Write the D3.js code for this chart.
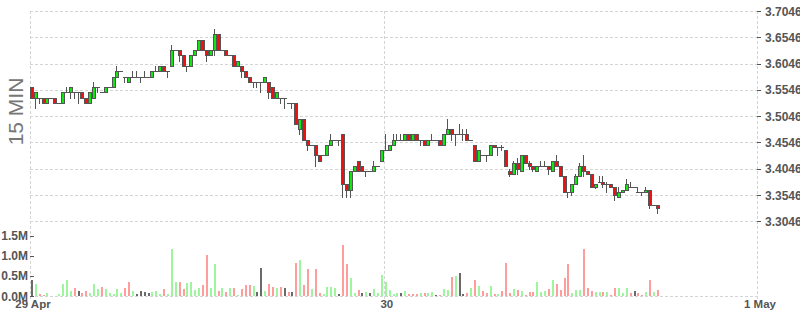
<!DOCTYPE html>
<html>
<head>
<meta charset="utf-8">
<script src="https://cdn.jsdelivr.net/npm/d3@7"></script>
<style>
    body { margin: 0; background: #fff; }
    svg { display: block; }
    .tick-text { font-family: "Liberation Sans", Arial, sans-serif; font-weight: bold; fill: #555; }
</style>
</head>
<body>
<svg id="chart"></svg>
<script>
// 15 minute candles, 29 Apr 01:15 onward
const firstBar = new Date(2019, 3, 29, 1, 15);
const axisEnd = new Date(2019, 4, 1, 0, 0);
const barMinutes = 15;

const openPrices = [
    3.56, 3.54, 3.54, 3.54, 3.53, 3.54, 3.54, 3.53, 3.53, 3.55,
    3.55, 3.55, 3.55, 3.55, 3.54, 3.53, 3.54, 3.56, 3.55, 3.55,
    3.56, 3.56, 3.58, 3.59, 3.58, 3.57, 3.58, 3.58, 3.58, 3.58,
    3.58, 3.58, 3.59, 3.59, 3.60, 3.59, 3.60, 3.63, 3.63, 3.62,
    3.60, 3.60, 3.62, 3.63, 3.65, 3.63, 3.62, 3.63, 3.66, 3.63,
    3.63, 3.62, 3.62, 3.60, 3.60, 3.59, 3.58, 3.57, 3.57, 3.57,
    3.57, 3.57, 3.56, 3.54, 3.54, 3.54, 3.53, 3.53, 3.53, 3.48,
    3.50, 3.46, 3.45, 3.45, 3.43, 3.43, 3.43, 3.45, 3.46, 3.46,
    3.47, 3.375, 3.365, 3.40, 3.42, 3.41, 3.40, 3.40, 3.40, 3.41,
    3.42, 3.44, 3.44, 3.45, 3.46, 3.46, 3.46, 3.47, 3.46, 3.47,
    3.46, 3.46, 3.45, 3.46, 3.46, 3.46, 3.45, 3.47, 3.48, 3.47,
    3.47, 3.47, 3.47, 3.46, 3.45, 3.42, 3.43, 3.43, 3.43, 3.45,
    3.445, 3.445, 3.44, 3.40, 3.395, 3.415, 3.40, 3.43, 3.415, 3.41,
    3.40, 3.41, 3.41, 3.41, 3.40, 3.42, 3.41, 3.39, 3.36, 3.36,
    3.375, 3.39, 3.41, 3.40, 3.395, 3.37, 3.38, 3.38, 3.375, 3.375,
    3.37, 3.35, 3.36, 3.365, 3.37, 3.37, 3.36, 3.36, 3.36, 3.365,
    3.335, 3.335
];
const highPrices = [
    3.56, 3.55, 3.54, 3.54, 3.54, 3.54, 3.54, 3.53, 3.55, 3.56,
    3.56, 3.55, 3.55, 3.55, 3.54, 3.55, 3.57, 3.56, 3.55, 3.56,
    3.56, 3.58, 3.60, 3.59, 3.58, 3.58, 3.59, 3.59, 3.58, 3.59,
    3.58, 3.59, 3.60, 3.60, 3.60, 3.59, 3.64, 3.63, 3.63, 3.62,
    3.60, 3.62, 3.63, 3.65, 3.65, 3.63, 3.63, 3.67, 3.66, 3.63,
    3.63, 3.62, 3.62, 3.61, 3.60, 3.59, 3.58, 3.57, 3.57, 3.57,
    3.58, 3.57, 3.56, 3.55, 3.54, 3.54, 3.53, 3.53, 3.53, 3.50,
    3.50, 3.46, 3.45, 3.45, 3.43, 3.43, 3.45, 3.47, 3.46, 3.46,
    3.47, 3.375, 3.40, 3.41, 3.42, 3.41, 3.40, 3.40, 3.42, 3.41,
    3.44, 3.47, 3.45, 3.47, 3.47, 3.47, 3.47, 3.47, 3.47, 3.47,
    3.46, 3.46, 3.46, 3.47, 3.46, 3.46, 3.47, 3.50, 3.48, 3.47,
    3.49, 3.48, 3.48, 3.46, 3.45, 3.44, 3.43, 3.43, 3.45, 3.45,
    3.445, 3.45, 3.44, 3.405, 3.42, 3.425, 3.43, 3.43, 3.42, 3.41,
    3.41, 3.42, 3.42, 3.41, 3.42, 3.43, 3.41, 3.39, 3.36, 3.375,
    3.395, 3.415, 3.43, 3.40, 3.395, 3.375, 3.39, 3.39, 3.38, 3.375,
    3.37, 3.37, 3.365, 3.385, 3.38, 3.37, 3.37, 3.36, 3.37, 3.365,
    3.335, 3.335
];
const lowPrices = [
    3.54, 3.52, 3.53, 3.53, 3.53, 3.54, 3.53, 3.53, 3.53, 3.55,
    3.54, 3.54, 3.53, 3.54, 3.53, 3.53, 3.54, 3.55, 3.55, 3.55,
    3.56, 3.56, 3.58, 3.59, 3.57, 3.57, 3.58, 3.58, 3.57, 3.58,
    3.58, 3.58, 3.59, 3.59, 3.59, 3.58, 3.60, 3.63, 3.61, 3.60,
    3.59, 3.60, 3.62, 3.63, 3.63, 3.61, 3.62, 3.62, 3.63, 3.63,
    3.62, 3.62, 3.60, 3.60, 3.58, 3.58, 3.57, 3.56, 3.56, 3.55,
    3.57, 3.54, 3.54, 3.54, 3.53, 3.52, 3.53, 3.52, 3.49, 3.47,
    3.46, 3.44, 3.45, 3.41, 3.42, 3.43, 3.43, 3.45, 3.46, 3.45,
    3.35, 3.35, 3.35, 3.40, 3.40, 3.40, 3.39, 3.40, 3.40, 3.41,
    3.42, 3.44, 3.44, 3.45, 3.46, 3.46, 3.46, 3.46, 3.46, 3.46,
    3.45, 3.45, 3.45, 3.46, 3.46, 3.45, 3.45, 3.47, 3.46, 3.45,
    3.47, 3.46, 3.46, 3.46, 3.42, 3.42, 3.43, 3.42, 3.43, 3.445,
    3.43, 3.44, 3.41, 3.39, 3.395, 3.395, 3.40, 3.415, 3.405, 3.40,
    3.40, 3.41, 3.41, 3.395, 3.40, 3.41, 3.39, 3.36, 3.35, 3.355,
    3.375, 3.39, 3.39, 3.395, 3.37, 3.368, 3.38, 3.37, 3.36, 3.37,
    3.345, 3.35, 3.36, 3.365, 3.37, 3.37, 3.36, 3.355, 3.36, 3.33,
    3.335, 3.32
];
const closePrices = [
    3.54, 3.55, 3.54, 3.53, 3.54, 3.54, 3.53, 3.53, 3.55, 3.55,
    3.56, 3.55, 3.55, 3.54, 3.53, 3.55, 3.56, 3.56, 3.55, 3.56,
    3.56, 3.58, 3.59, 3.59, 3.58, 3.58, 3.58, 3.58, 3.58, 3.58,
    3.58, 3.59, 3.59, 3.60, 3.59, 3.59, 3.63, 3.63, 3.62, 3.60,
    3.60, 3.62, 3.63, 3.65, 3.63, 3.62, 3.63, 3.66, 3.63, 3.63,
    3.62, 3.62, 3.60, 3.61, 3.59, 3.58, 3.57, 3.57, 3.57, 3.57,
    3.58, 3.55, 3.54, 3.55, 3.54, 3.54, 3.53, 3.53, 3.49, 3.50,
    3.46, 3.45, 3.45, 3.43, 3.42, 3.43, 3.45, 3.46, 3.46, 3.46,
    3.375, 3.365, 3.40, 3.41, 3.40, 3.40, 3.40, 3.40, 3.41, 3.41,
    3.44, 3.44, 3.45, 3.46, 3.46, 3.46, 3.47, 3.46, 3.47, 3.46,
    3.46, 3.45, 3.46, 3.46, 3.46, 3.45, 3.47, 3.48, 3.47, 3.47,
    3.47, 3.47, 3.46, 3.46, 3.42, 3.44, 3.43, 3.43, 3.45, 3.445,
    3.445, 3.445, 3.41, 3.395, 3.415, 3.405, 3.43, 3.415, 3.41, 3.405,
    3.41, 3.41, 3.41, 3.405, 3.42, 3.41, 3.39, 3.36, 3.36, 3.375,
    3.39, 3.41, 3.40, 3.395, 3.37, 3.375, 3.38, 3.375, 3.375, 3.37,
    3.355, 3.36, 3.365, 3.375, 3.37, 3.37, 3.36, 3.36, 3.365, 3.335,
    3.335, 3.33
];
// volume in millions of shares
const volumes = [
    0.41, 0.31, 0.04, 0.02, 0.07, 0.00, 0.00, 0.04, 0.29, 0.39,
    0.12, 0.19, 0.12, 0.07, 0.12, 0.07, 0.29, 0.17, 0.22, 0.17,
    0.07, 0.04, 0.17, 0.07, 0.21, 0.36, 0.12, 0.04, 0.12, 0.09,
    0.07, 0.09, 0.12, 0.04, 0.17, 0.04, 1.18, 0.36, 0.36, 0.17,
    0.33, 0.36, 0.15, 0.20, 0.27, 1.01, 0.20, 0.79, 0.12, 0.20,
    0.10, 0.20, 0.20, 0.03, 0.17, 0.27, 0.27, 0.25, 0.10, 0.69,
    0.12, 0.30, 0.22, 0.20, 0.22, 0.20, 0.10, 0.10, 0.82, 0.89,
    0.27, 0.67, 0.17, 0.67, 0.07, 0.04, 0.22, 0.22, 0.20, 0.04,
    1.28, 0.79, 0.44, 0.07, 0.14, 0.07, 0.09, 0.07, 0.17, 0.07,
    0.52, 0.34, 0.14, 0.04, 0.07, 0.07, 0.12, 0.04, 0.04, 0.04,
    0.07, 0.07, 0.07, 0.09, 0.02, 0.02, 0.17, 0.14, 0.47, 0.50,
    0.56, 0.04, 0.07, 0.19, 0.39, 0.24, 0.12, 0.07, 0.24, 0.04,
    0.04, 0.13, 0.81, 0.07, 0.17, 0.14, 0.12, 0.03, 0.09, 0.09,
    0.36, 0.09, 0.12, 0.17, 0.41, 0.31, 0.14, 0.44, 0.79, 0.07,
    0.14, 0.14, 1.16, 0.19, 0.12, 0.09, 0.09, 0.09, 0.09, 0.03,
    0.21, 0.19, 0.07, 0.21, 0.07, 0.12, 0.07, 0.03, 0.09, 0.41,
    0.09, 0.14
];
// trade direction of each bar's volume: 1 up, -1 down, 0 unchanged
const volumeSide = [
    0, 1, -1, -1, 1, 0, -1, 1, 1, 1,
    1, -1, 0, -1, -1, 1, 1, 1, -1, 1,
    1, 1, 1, 1, -1, -1, 1, 0, 0, 0,
    0, 1, 1, 1, -1, 1, 1, 1, -1, -1,
    1, 1, 1, 1, -1, -1, 1, 1, -1, 1,
    -1, 1, -1, 1, -1, -1, -1, 1, 0, 0,
    1, -1, -1, 1, -1, 0, -1, 0, -1, 1,
    -1, -1, 1, -1, -1, 1, 1, 1, 1, 0,
    -1, -1, 1, 1, -1, 0, 1, 0, 1, 1,
    1, 1, 1, 1, 1, 0, 1, -1, -1, -1,
    1, -1, 1, 1, 0, -1, 1, 1, -1, 1,
    0, 0, -1, 1, -1, 1, -1, -1, 1, -1,
    1, -1, -1, -1, 1, -1, 1, -1, -1, -1,
    1, 1, 1, -1, 1, -1, -1, -1, -1, 1,
    1, 1, -1, -1, -1, 1, 1, -1, 1, -1,
    -1, 1, 1, 1, -1, 0, -1, -1, 1, -1,
    1, -1
];

const priceTicks = [3.3046, 3.3546, 3.4046, 3.4546, 3.5046, 3.5546, 3.6046, 3.6546, 3.7046];
const volumeTicks = [0, 0.5, 1.0, 1.5];
const dateTicks = [firstBar, new Date(2019, 3, 30), axisEnd];
const dateLabels = ["29 Apr", "30", "1 May"];

const width = 800, height = 315;
const plot = { left: 30, right: 757, top: 11, bottom: 296 };

const svg = d3.select("#chart")
    .attr("width", width)
    .attr("height", height);

// Scales
const x = d3.scaleTime()
    .domain([firstBar, axisEnd])
    .range([plot.left, plot.right]);

const y = d3.scaleLinear()
    .domain([3.3046, 3.7046])
    .range([221.3, plot.top]);

const yVol = d3.scaleLinear()
    .domain([0, 1.5])
    .range([plot.bottom, 235.7]);

const bars = openPrices.map((o, i) => ({
    time: new Date(+firstBar + (i + 0.5) * barMinutes * 60000),
    open: o, high: highPrices[i], low: lowPrices[i], close: closePrices[i],
    volume: volumes[i], side: volumeSide[i]
}));

const px = v => Math.round(v) + 0.5;

// Grid
const grid = svg.append("g")
    .attr("stroke", "#d4d4d4")
    .attr("stroke-dasharray", "3,2");

grid.selectAll(".h-grid")
    .data(priceTicks)
    .enter()
    .append("line")
    .attr("x1", plot.left)
    .attr("x2", plot.right)
    .attr("y1", d => px(y(d)))
    .attr("y2", d => px(y(d)));

grid.append("line")
    .attr("x1", plot.left).attr("x2", plot.right)
    .attr("y1", px(plot.bottom)).attr("y2", px(plot.bottom));

grid.selectAll(".v-grid")
    .data(dateTicks)
    .enter()
    .append("line")
    .attr("x1", d => px(x(d)))
    .attr("x2", d => px(x(d)))
    .attr("y1", plot.top)
    .attr("y2", plot.bottom + 3);

// Volume bars
const volColor = s => s > 0 ? "#9df59d" : s < 0 ? "#ff9c9c" : "#6a6a6a";

svg.append("g")
    .selectAll("rect")
    .data(bars.filter(d => d.volume > 0))
    .enter()
    .append("rect")
    .attr("x", d => Math.round(x(d.time) - 2) + 1)
    .attr("y", d => Math.round(yVol(d.volume)))
    .attr("width", 2)
    .attr("height", d => plot.bottom - Math.round(yVol(d.volume)))
    .attr("fill", d => volColor(d.side));

// Candles
const candles = svg.append("g").attr("stroke", "#555").attr("stroke-width", 1);

candles.selectAll(".wick")
    .data(bars)
    .enter()
    .append("line")
    .attr("x1", d => Math.round(x(d.time) - 2) + 1.5)
    .attr("x2", d => Math.round(x(d.time) - 2) + 1.5)
    .attr("y1", d => Math.round(y(d.high)))
    .attr("y2", d => Math.round(y(d.low)) + 1);

// open == close: just a flat line
candles.selectAll(".flat")
    .data(bars.filter(d => d.open === d.close))
    .enter()
    .append("line")
    .attr("x1", d => Math.round(x(d.time) - 2))
    .attr("x2", d => Math.round(x(d.time) - 2) + 4)
    .attr("y1", d => px(y(d.close)))
    .attr("y2", d => px(y(d.close)));

candles.selectAll(".body")
    .data(bars.filter(d => d.open !== d.close))
    .enter()
    .append("rect")
    .attr("x", d => Math.round(x(d.time) - 2) + 0.5)
    .attr("y", d => px(y(Math.max(d.open, d.close))))
    .attr("width", 3)
    .attr("height", d => Math.max(1, Math.round(y(Math.min(d.open, d.close))) - Math.round(y(Math.max(d.open, d.close)))))
    .attr("fill", d => d.close > d.open ? "#11e611" : "#ee1111");

// Right price axis
const right = svg.append("g");
right.selectAll("line")
    .data(priceTicks)
    .enter()
    .append("line")
    .attr("x1", plot.right)
    .attr("x2", plot.right + 4)
    .attr("y1", d => px(y(d)))
    .attr("y2", d => px(y(d)))
    .attr("stroke", "#555");
right.selectAll("text")
    .data(priceTicks)
    .enter()
    .append("text")
    .attr("class", "tick-text")
    .attr("x", 765)
    .attr("y", d => y(d) + 4.5)
    .style("font-size", "12px")
    .text(d => d.toFixed(4));

// Left volume axis
const left = svg.append("g");
left.selectAll("line")
    .data(volumeTicks)
    .enter()
    .append("line")
    .attr("x1", plot.left)
    .attr("x2", plot.left + 4)
    .attr("y1", d => px(yVol(d)))
    .attr("y2", d => px(yVol(d)))
    .attr("stroke", "#555");
left.selectAll("text")
    .data(volumeTicks)
    .enter()
    .append("text")
    .attr("class", "tick-text")
    .attr("x", 28)
    .attr("y", d => yVol(d) + 4.5)
    .attr("text-anchor", "end")
    .style("font-size", "12px")
    .text(d => d.toFixed(1) + "M");

// Bottom date axis
svg.selectAll(".date-label")
    .data(dateTicks)
    .enter()
    .append("text")
    .attr("class", "tick-text")
    .attr("x", d => x(d) + 3)
    .attr("y", 308)
    .attr("text-anchor", "middle")
    .style("font-size", "11.5px")
    .text((d, i) => dateLabels[i]);

// Interval label
svg.append("text")
    .attr("transform", "translate(23,111.5) rotate(-90)")
    .attr("text-anchor", "middle")
    .style("font-family", "'Liberation Sans', Arial, sans-serif")
    .style("font-size", "21px")
    .style("fill", "#777")
    .text("15 MIN");
</script>
</body>
</html>
